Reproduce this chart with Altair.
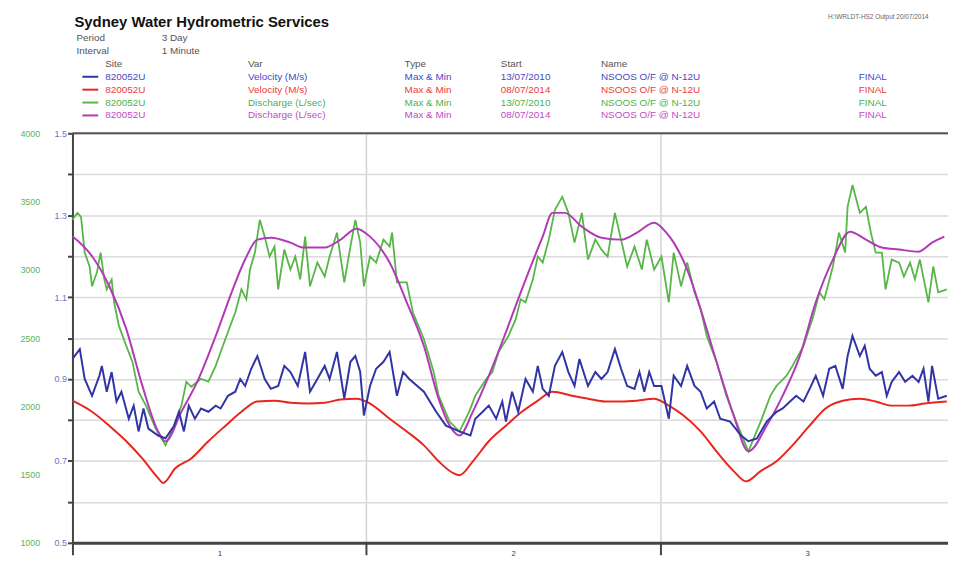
import altair as alt
import pandas as pd

# ---------------- data ----------------
# time in hours from the start of the 3-day period
blue_hours = [0.0,0.6,1.0,1.6,2.2,2.4,2.8,3.2,3.6,4.0,4.6,5.0,5.4,5.8,6.2,7.0,7.6,8.3,8.7,9.1,
              9.5,10.0,10.5,11.1,11.7,12.1,12.7,13.3,13.7,14.1,14.6,15.1,15.7,16.2,16.8,17.3,17.8,18.4,19.0,19.4,
              20.0,20.6,21.0,21.6,22.2,22.7,23.1,23.5,23.8,24.3,
              24.8,25.4,25.9,26.5,27.0,27.5,28.7,29.7,30.5,31.6,32.5,32.9,33.5,34.0,34.6,35.1,35.4,35.9,36.4,37.0,
              37.6,38.0,38.4,38.9,39.4,40.0,40.5,41.0,41.4,42.1,42.7,43.2,43.7,44.3,44.8,45.3,45.9,46.3,46.7,47.1,
              47.5,48.1,48.7,
              49.1,49.7,50.2,50.8,51.3,51.8,52.4,52.9,53.7,54.6,55.2,55.9,56.7,57.5,58.0,58.6,59.1,59.7,60.2,60.7,
              61.3,61.8,62.3,62.9,63.3,63.7,64.3,64.7,65.1,65.6,66.1,66.5,66.9,67.5,68.0,68.6,69.1,69.5,69.9,70.2,
              70.7,71.4]
blue_velocity = [0.949,0.973,0.900,0.859,0.908,0.932,0.869,0.917,0.845,0.869,0.803,0.835,0.772,0.828,0.779,0.762,0.755,0.786,0.820,0.772,
                 0.835,0.803,0.828,0.820,0.835,0.828,0.859,0.869,0.900,0.883,0.925,0.956,0.900,0.876,0.883,0.932,0.917,0.883,0.966,0.869,
                 0.900,0.932,0.900,0.966,0.852,0.942,0.956,0.917,0.811,0.883,
                 0.925,0.942,0.966,0.859,0.917,0.900,0.869,0.820,0.786,0.772,0.762,0.803,0.820,0.835,0.803,0.845,0.796,0.869,0.820,0.900,
                 0.869,0.932,0.876,0.859,0.932,0.966,0.917,0.883,0.949,0.883,0.917,0.900,0.917,0.973,0.925,0.883,0.876,0.917,0.869,0.917,
                 0.883,0.883,0.803,
                 0.908,0.883,0.932,0.883,0.869,0.828,0.845,0.803,0.796,0.762,0.748,0.755,0.796,0.820,0.828,0.845,0.859,0.845,0.876,0.908,
                 0.859,0.925,0.932,0.876,0.956,1.005,0.956,0.981,0.925,0.908,0.917,0.859,0.893,0.917,0.893,0.908,0.893,0.925,0.845,0.932,
                 0.852,0.859]

red_hours = [0.0,1.6,3.0,4.4,5.7,7.0,7.4,8.4,9.7,11.1,12.5,13.8,15.1,16.5,17.8,19.2,20.6,21.9,23.2,24.3,
             25.9,27.3,28.7,29.9,31.1,31.6,32.7,34.0,35.4,36.7,38.0,39.2,40.8,42.1,43.5,44.8,46.1,47.5,48.7,49.9,
             51.3,52.6,54.0,55.0,56.2,57.5,58.8,60.2,61.5,62.9,64.3,65.6,66.9,68.3,69.6,71.4]
red_velocity = [0.847,0.820,0.786,0.748,0.706,0.658,0.646,0.682,0.706,0.748,0.786,0.820,0.845,0.847,0.842,0.840,0.842,0.850,0.852,0.840,
                0.803,0.772,0.738,0.699,0.670,0.665,0.699,0.748,0.786,0.820,0.847,0.869,0.859,0.852,0.845,0.845,0.847,0.852,0.835,0.811,
                0.772,0.723,0.675,0.650,0.675,0.699,0.738,0.786,0.828,0.847,0.852,0.845,0.835,0.835,0.840,0.845]

green_hours = [0.0,0.4,0.7,1.0,1.4,1.6,2.0,2.3,2.6,2.8,3.2,3.4,3.8,4.4,4.9,5.4,6.0,6.8,7.6,8.3,
               8.9,9.3,9.7,10.5,11.1,11.7,12.1,12.7,13.3,13.8,14.2,14.5,14.9,15.3,15.7,16.1,16.5,16.8,17.3,17.8,
               18.2,18.6,19.0,19.4,20.0,20.6,21.0,21.6,22.2,22.7,23.1,23.5,23.8,24.3,24.8,25.4,25.9,26.1,26.5,27.3,
               27.8,28.7,29.5,29.9,30.8,31.6,32.4,32.9,33.8,34.3,34.8,35.6,36.2,36.6,37.0,37.6,38.0,38.4,38.9,39.4,
               40.0,40.5,41.0,41.6,42.1,42.7,43.2,43.7,44.3,44.8,45.3,45.9,46.5,46.9,47.5,48.1,48.7,49.1,49.7,50.2,
               50.8,51.3,51.8,52.6,53.4,54.2,55.2,56.2,57.0,57.5,58.3,58.8,59.7,60.5,61.0,61.4,62.1,62.6,63.1,63.3,
               63.7,64.3,64.8,65.2,65.6,66.1,66.4,66.9,67.5,67.9,68.4,68.8,69.2,69.9,70.3,70.7,71.4]
green_discharge = [3366,3417,3388,3126,3024,2879,2981,3126,2930,2857,2930,2762,2587,2442,2325,2107,2005,1837,1714,1859,
                   2005,2180,2143,2201,2180,2296,2398,2544,2689,2857,2784,3002,3126,3366,3243,3097,3170,2857,3148,3002,
                   3097,2930,3243,2879,3053,2951,3097,3272,2908,3170,3366,3199,2879,3097,3053,3221,3170,3272,2908,2908,
                   2689,2493,2252,2078,1888,1815,1961,2078,2201,2252,2398,2515,2638,2784,2762,2930,3097,3053,3221,3439,
                   3534,3417,3199,3417,3075,3221,3148,3097,3417,3221,3024,3170,3002,3221,3002,3097,2762,3126,2879,3053,
                   2835,2711,2515,2325,2078,1888,1670,1888,2078,2151,2223,2296,2442,2660,2835,2784,3024,3272,3126,3461,
                   3621,3417,3461,3272,3126,3126,2857,3075,3053,2951,3053,2930,3075,2762,3024,2835,2857]

magenta_hours = [0.0,1.6,3.0,4.4,5.7,7.0,7.6,8.9,10.3,11.7,13.0,14.1,15.1,16.2,17.8,18.9,20.6,21.9,23.2,24.3,
                 25.9,27.3,28.7,29.9,30.8,31.6,32.7,34.0,35.4,36.7,38.4,39.2,40.2,41.6,43.2,44.8,46.1,47.5,48.5,49.1,
                 50.2,51.3,52.6,54.0,55.2,56.7,58.0,59.4,60.7,62.1,63.5,64.8,66.1,67.5,69.1,70.2,71.2]
magenta_discharge = [3245,3099,2881,2565,2153,1815,1743,1961,2201,2515,2835,3075,3221,3235,3199,3163,3163,3221,3301,3243,
                     3053,2762,2442,2056,1859,1786,1961,2223,2544,2857,3243,3417,3417,3315,3235,3221,3272,3345,3272,3199,
                     3002,2711,2325,1932,1670,1859,2078,2369,2762,3075,3279,3221,3163,3148,3133,3199,3243]

velocity_ticks = [0.5, 0.6, 0.7, 0.8, 0.9, 1.0, 1.1, 1.2, 1.3, 1.4, 1.5]
discharge_ticks = [1000, 1500, 2000, 2500, 3000, 3500, 4000]
hour_ticks = [0, 12, 24, 36, 48, 60]

title_text = "Sydney Water Hydrometric Services"
info_labels = ["Period", "Interval"]
info_values = ["3 Day", "1 Minute"]
legend_headers = ["Site", "Var", "Type", "Start", "Name"]
legend_sites = ["820052U", "820052U", "820052U", "820052U"]
legend_vars = ["Velocity (M/s)", "Velocity (M/s)", "Discharge (L/sec)", "Discharge (L/sec)"]
legend_types = ["Max & Min", "Max & Min", "Max & Min", "Max & Min"]
legend_starts = ["13/07/2010", "08/07/2014", "13/07/2010", "08/07/2014"]
legend_names = ["NSOOS O/F @ N-12U"] * 4
legend_status = ["FINAL"] * 4
corner_text = "H:\\WRLDT-HS2  Output 20/07/2014"

# ---------------- styling ----------------
BLUE, RED, GREEN, MAGENTA = "#3034a4", "#e8261e", "#56b646", "#b13ab6"
TEXT_COLORS = ["#4848bf", "#ec3c3c", "#4cb24c", "#c04cc4"]
FONT = "Liberation Sans"
W, H = 883, 413

blue_df = pd.DataFrame({"hour": blue_hours, "value": blue_velocity})
red_df = pd.DataFrame({"hour": red_hours, "value": red_velocity})
green_df = pd.DataFrame({"hour": green_hours, "value": green_discharge})
magenta_df = pd.DataFrame({"hour": magenta_hours, "value": magenta_discharge})

x_axis = alt.Axis(
    values=hour_ticks, title=None, grid=True,
    gridColor="#d4d4d4", gridWidth=1.5,
    gridOpacity={"condition": {"test": "datum.value % 24 === 0", "value": 1}, "value": 0},
    tickOpacity={"condition": {"test": "datum.value % 24 === 0", "value": 1}, "value": 0},
    tickSize=12, tickWidth=2, tickColor="#444",
    labelExpr="datum.value % 24 === 12 ? toString((datum.value + 12) / 24) : ''",
    labelPadding=-5, labelFontSize=8, labelColor="#444", labelFont=FONT,
    domainColor="#444", domainWidth=3,
)
x_enc = alt.X("hour:Q", scale=alt.Scale(domain=[0, 71.5], nice=False, zero=False), axis=x_axis)

vel_scale = alt.Scale(domain=[0.5, 1.5], nice=False, zero=False)
dis_scale = alt.Scale(domain=[1000, 4000], nice=False, zero=False)

vel_axis = alt.Axis(
    values=velocity_ticks, title=None, orient="left", grid=True,
    gridColor="#dadada", gridWidth=1.5,
    labelExpr="indexof(['0.5','0.7','0.9','1.1','1.3','1.5'], format(datum.value, '.1f')) >= 0 ? format(datum.value, '.1f') : ''",
    labelColor="#6f6fc4", labelFontSize=9, labelFont=FONT, labelPadding=1,
    tickColor="#444", tickSize=5, tickWidth=2,
    domainColor="#444", domainWidth=2,
)
dis_axis = alt.Axis(
    values=discharge_ticks, title=None, orient="left", grid=False, format="d",
    domain=False, ticks=False, offset=28, labelPadding=5,
    labelColor="#5db35d", labelFontSize=9, labelFont=FONT,
)

red_line = alt.Chart(red_df).mark_line(color=RED, strokeWidth=2, interpolate="monotone").encode(
    x=x_enc, y=alt.Y("value:Q", scale=vel_scale, axis=vel_axis))
green_line = alt.Chart(green_df).mark_line(color=GREEN, strokeWidth=1.8).encode(
    x=x_enc, y=alt.Y("value:Q", scale=dis_scale, axis=dis_axis))
magenta_line = alt.Chart(magenta_df).mark_line(color=MAGENTA, strokeWidth=2, interpolate="monotone").encode(
    x=x_enc, y=alt.Y("value:Q", scale=dis_scale, axis=None))
blue_line = alt.Chart(blue_df).mark_line(color=BLUE, strokeWidth=2).encode(
    x=x_enc, y=alt.Y("value:Q", scale=vel_scale, axis=None))

# top frame line
frame = alt.Chart(red_df.head(1)).mark_rule(color="#555", strokeWidth=2).encode(
    x=alt.value(0), x2=alt.value(W), y=alt.value(0))

# ---------------- header block (text positioned in pixels above the plot) ----------------
col_x = [33, 177, 335, 432, 533]
row_y = [-57, -44, -31, -18]
rows = []
for t, cx in zip(legend_headers, col_x):
    rows.append({"text": t, "px": cx, "py": -70, "color": "#555555"})
for i in range(4):
    for t, cx in zip([legend_sites[i], legend_vars[i], legend_types[i], legend_starts[i], legend_names[i], legend_status[i]],
                     col_x + [793]):
        rows.append({"text": t, "px": cx, "py": row_y[i], "color": TEXT_COLORS[i]})
for t, v, yy in zip(info_labels, info_values, [-96, -83]):
    rows.append({"text": t, "px": 4, "py": yy, "color": "#555555"})
    rows.append({"text": v, "px": 90, "py": yy, "color": "#555555"})
header_df = pd.DataFrame(rows)

header = alt.Chart(header_df).mark_text(align="left", baseline="middle", fontSize=10, font=FONT).encode(
    x=alt.X("px:Q", scale=None), y=alt.Y("py:Q", scale=None),
    text="text:N", color=alt.Color("color:N", scale=None))

title = alt.Chart(red_df.head(1)).mark_text(
    align="left", baseline="middle", fontSize=15, fontWeight="bold", font=FONT, color="#111", text=title_text
).encode(x=alt.value(2), y=alt.value(-112))

corner = alt.Chart(red_df.head(1)).mark_text(
    align="left", baseline="middle", fontSize=6.5, font=FONT, color="#666", text=corner_text
).encode(x=alt.value(762), y=alt.value(-117))

sample_df = pd.DataFrame({"x0": [10] * 4, "x1": [26] * 4, "py": row_y,
                          "color": [BLUE, RED, GREEN, MAGENTA]})
samples = alt.Chart(sample_df).mark_rule(strokeWidth=2).encode(
    x=alt.X("x0:Q", scale=None), x2="x1:Q", y=alt.Y("py:Q", scale=None),
    color=alt.Color("color:N", scale=None))

chart = alt.layer(
    red_line, green_line, magenta_line, blue_line, frame, header, title, corner, samples
).resolve_scale(y="independent").properties(
    width=W, height=H,
    autosize=alt.AutoSizeParams(type="none"),
    padding={"left": 65, "top": 124, "right": 0, "bottom": 17},
).configure_view(stroke=None).configure(background="white")

chart.save("out.html", embed_options={"renderer": "svg", "actions": False})
